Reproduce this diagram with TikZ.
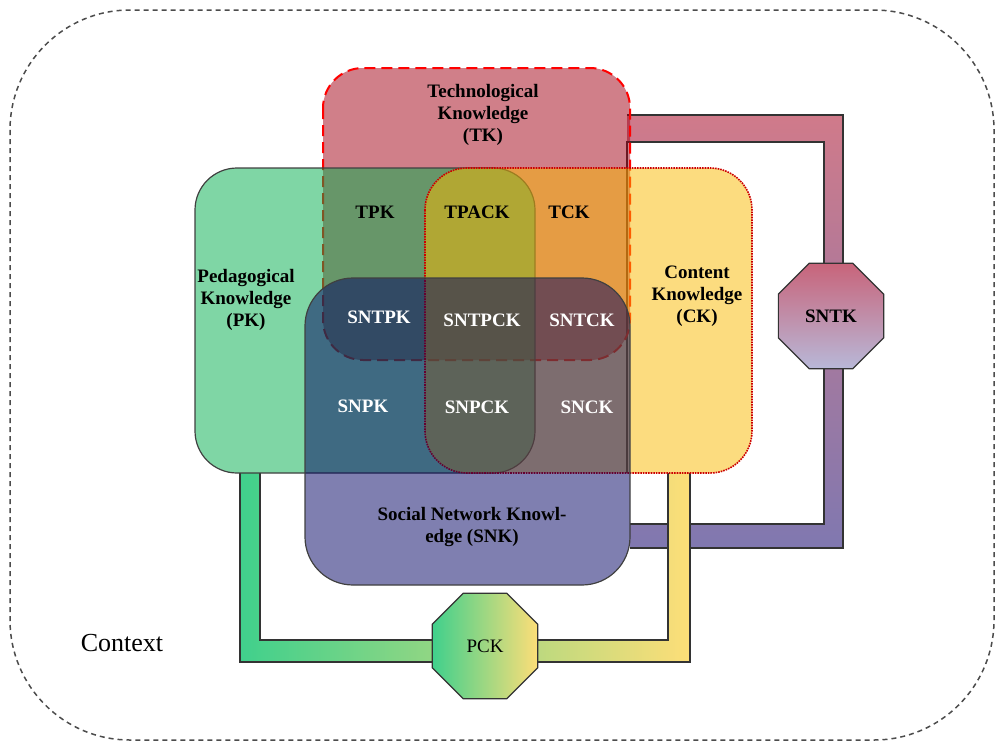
\documentclass[tikz,border=0pt]{standalone}
\usepackage{fontspec}
\setmainfont{Liberation Serif}
\usetikzlibrary{shapes.geometric}

\definecolor{tkred}{RGB}{161,0,20}
\definecolor{pkgreen}{RGB}{0,173,75}
\definecolor{ckyellow}{RGB}{250,185,0}
\definecolor{snkblue}{RGB}{0,0,97}
\definecolor{bandpink}{RGB}{208,122,138}
\definecolor{bandpurple}{RGB}{128,120,176}
\definecolor{bandgreen}{RGB}{64,208,140}
\definecolor{bandyellow}{RGB}{253,222,120}
\definecolor{octpink}{RGB}{200,100,122}
\definecolor{octlilac}{RGB}{184,184,216}

\tikzset{
  area/.style={fill opacity=0.5, rounded corners=42pt},
  lbl/.style={font=\fontsize{19}{22}\selectfont\bfseries, align=center, inner sep=0pt},
  snlbl/.style={lbl, text=white},
  octo/.style={regular polygon, regular polygon sides=8, minimum size=114pt, inner sep=0pt,
    draw=black!80, line width=1.2pt, font=\fontsize{19}{22}\selectfont},
  band/.style={draw=black!80, line width=1.2pt}
}

\begin{document}
\begin{tikzpicture}[x=1pt,y=-1pt]
\useasboundingbox (0,0) rectangle (996,742);
\draw [gray!60!black, line width=1.5pt, dash pattern=on 5pt off 4pt, rounded corners=120pt] (10,10) rectangle (994,740);

\shade [top color=bandpink, bottom color=bandpurple] (627,115) -- (843,115) -- (843,548) -- (630,548) -- (630,524) -- (824,524) -- (824,142) -- (627,142) -- cycle;
\draw [band] (627,115) -| (843,548) -- (630,548);
\draw [band] (630,524) -| (824,142) -- (627,142) -- (627,473);

\shade [left color=bandgreen, right color=bandyellow] (240,473) -- (240,662) -- (690,662) -- (690,473) -- (668,473) -- (668,640) -- (260,640) -- (260,473) -- cycle;
\draw [band] (240,473) |- (690,662) -- (690,473);
\draw [band] (260,473) |- (668,640) -- (668,473);

\draw [area, fill=tkred, draw=red, line width=2pt, dash pattern=on 11pt off 6pt, rounded corners=40pt] (323,68) rectangle (630,360);
\draw [area, fill=pkgreen, draw=black!75, line width=1.2pt] (195,168) rectangle (535,473);
\draw [area, fill=ckyellow, draw=red!80!black, line width=1.6pt, densely dotted] (425,168) rectangle (752,473);
\draw [area, fill=snkblue, draw=black!75, line width=1.2pt, rounded corners=48pt] (305,278) rectangle (630,585);

\node [octo, top color=octpink, bottom color=octlilac] (sntk) at (831,316) {\bfseries SNTK};
\node [octo, left color=bandgreen, right color=bandyellow] (pck) at (485,646) {PCK};

\node [lbl] (tk) at (483,115) {Technological\\Knowledge\\(TK)};
\node [lbl] (pk) at (246,300) {Pedagogical\\Knowledge\\(PK)};
\node [lbl] (ck) at (697,296) {Content\\Knowledge\\(CK)};
\node [lbl] (snk) at (472,527) {Social Network Knowl-\\edge (SNK)};

\node [lbl] (tpk) at (375,212) {TPK};
\node [lbl] (tpack) at (477,212) {TPACK};
\node [lbl] (tck) at (569,212) {TCK};
\node [snlbl] (sntpk) at (379,317) {SNTPK};
\node [snlbl] (sntpck) at (482,320) {SNTPCK};
\node [snlbl] (sntck) at (582,320) {SNTCK};
\node [snlbl] (snpk) at (363,406) {SNPK};
\node [snlbl] (snpck) at (477,407) {SNPCK};
\node [snlbl] (snck) at (587,407) {SNCK};

\node [font=\fontsize{26}{30}\selectfont] (context) at (122,643) {Context};
\end{tikzpicture}
\end{document}
